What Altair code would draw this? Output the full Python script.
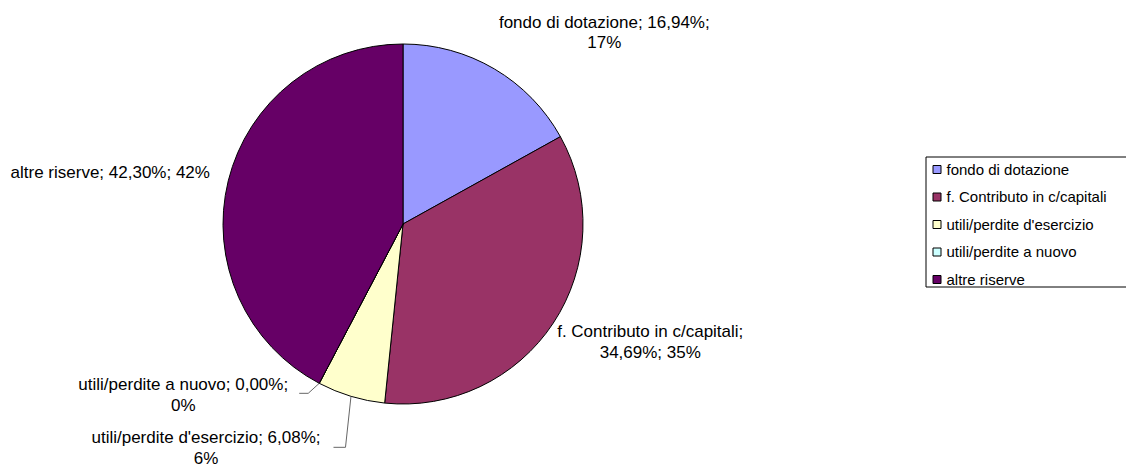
import math
import altair as alt
import pandas as pd

# ---- data ----
categories = ["fondo di dotazione", "f. Contributo in c/capitali",
              "utili/perdite d'esercizio", "utili/perdite a nuovo", "altre riserve"]
percent = [16.94, 34.69, 6.08, 0.00, 42.30]
colors = ["#9999FF", "#993366", "#FFFFCC", "#CCFFFF", "#660066"]

# label line-break style per slice
label_break = ["after_pct", "after_name", "after_pct", "after_pct", "none"]

# ---- layout ----
W, H = 1118, 459
CX, CY, R = 395, 216, 180
FONT = "Liberation Sans"
label_dx = [110, 97, -145, -136, -118]
label_dy = [-41, 14, 47, 7, -3]
leader_idx = [3, 2]  # slices with leader lines
leader_elbow = {3: [(-11, 10), (-20, 10)], 2: [(-5.5, 51), (-17.5, 51)]}


def fmt(v, d):
    return (f"{v:.{d}f}").replace(".", ",") + "%"


pie = pd.DataFrame({"category": categories, "pct": percent,
                    "order": list(range(len(categories)))})

# mid angles of slices (clockwise from top)
total = sum(percent)
cum = 0.0
mids = []
for v in percent:
    a0 = cum / total * 2 * math.pi
    cum += v
    a1 = cum / total * 2 * math.pi
    mids.append((a0 + a1) / 2)
rim = [(CX + R * math.sin(m), CY - R * math.cos(m)) for m in mids]

rows = []
for i, cat in enumerate(categories):
    p1 = f"{cat};"
    p2 = fmt(percent[i], 2) + ";"
    p3 = fmt(round(percent[i]), 0)
    if label_break[i] == "after_pct":
        txt = f"{p1} {p2}\n{p3}"
    elif label_break[i] == "after_name":
        txt = f"{p1}\n{p2} {p3}"
    else:
        txt = f"{p1} {p2} {p3}"
    rows.append({"x": rim[i][0] + label_dx[i], "y": rim[i][1] + label_dy[i], "text": txt})
labels = pd.DataFrame(rows)

lrows = []
for k, i in enumerate(leader_idx):
    sx, sy = rim[i]
    pts = [(sx, sy)] + [(sx + dx, sy + dy) for dx, dy in leader_elbow[i]]
    for j, (px, py) in enumerate(pts):
        lrows.append({"id": k, "o": j, "x": px, "y": py})
leaders = pd.DataFrame(lrows)

arc = alt.Chart(pie).mark_arc(outerRadius=R, stroke="#000000", strokeWidth=1).encode(
    theta=alt.Theta("pct:Q", stack=True),
    order=alt.Order("order:Q"),
    color=alt.Color("category:N",
                    scale=alt.Scale(domain=categories, range=colors),
                    legend=alt.Legend(title=None, orient="none", legendX=921.5, legendY=154,
                                      symbolType="square", symbolSize=64,
                                      symbolStrokeColor="#000000", symbolStrokeWidth=1,
                                      labelFont=FONT, labelFontSize=15, labelColor="#000000",
                                      labelOffset=2, rowPadding=11.5, padding=0,
                                      labelLimit=400)),
    x=alt.value(CX), y=alt.value(CY),
)

text = alt.Chart(labels).mark_text(font=FONT, fontSize=17, color="#000000", align="center",
                                   baseline="alphabetic", lineBreak="\n", lineHeight=20.5).encode(
    x=alt.X("x:Q", scale=None, axis=None),
    y=alt.Y("y:Q", scale=None, axis=None),
    text="text:N",
)

lines = alt.Chart(leaders).mark_line(color="#666666", strokeWidth=1).encode(
    x=alt.X("x:Q", scale=None, axis=None),
    y=alt.Y("y:Q", scale=None, axis=None),
    detail="id:N",
    order="o:Q",
)

box = alt.Chart(pd.DataFrame({"a": [0]})).mark_rect(fill=None, stroke="#000000", strokeWidth=1).encode(
    x=alt.value(918), x2=alt.value(1140), y=alt.value(149), y2=alt.value(279),
)

chart = alt.layer(arc, lines, text, box).properties(
    width=W, height=H, autosize="none", padding=0,
).configure(background="#ffffff").configure_view(stroke=None)

chart.save("out.html", embed_options={"renderer": "svg", "actions": False})
